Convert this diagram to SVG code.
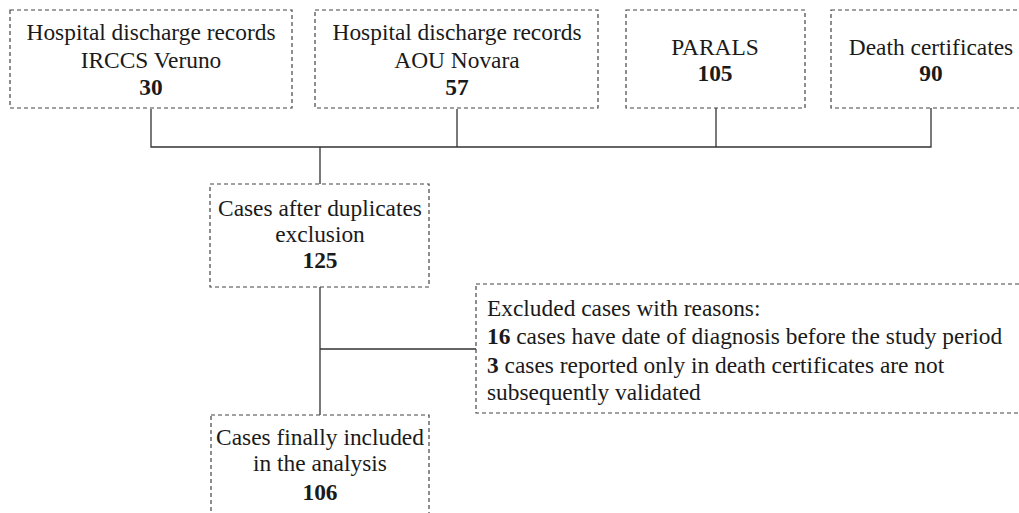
<svg xmlns="http://www.w3.org/2000/svg" width="1019" height="513" viewBox="0 0 1019 513">
<style>
.box{fill:#fff;stroke:#444;stroke-width:1.2;stroke-dasharray:4 3}
.t{font-family:'Liberation Serif','Times New Roman','DejaVu Serif',serif;font-size:23.4px;fill:#1a1a1a}
.c{text-anchor:middle}
.b{font-weight:bold}
.ln{fill:none;stroke:#333;stroke-width:1.3}
</style>
<rect width="1019" height="513" fill="#fff"/>
<g id="connectors">
<path class="ln" d="M151 109V147H931V108M457 109V147M716 108V147M320 147V184"/>
<path class="ln" d="M320 287V415M320 349H476"/>
</g>
<g id="n1">
<rect class="box" x="10" y="10" width="282" height="98"/>
<text class="t c" x="151" y="40">Hospital discharge records</text>
<text class="t c" x="151" y="68">IRCCS Veruno</text>
<text class="t c b" x="151" y="95">30</text>
</g>
<g id="n2">
<rect class="box" x="315" y="10" width="283" height="98"/>
<text class="t c" x="457" y="40">Hospital discharge records</text>
<text class="t c" x="457" y="68">AOU Novara</text>
<text class="t c b" x="457" y="95">57</text>
</g>
<g id="n3">
<rect class="box" x="626" y="10" width="179" height="98"/>
<text class="t c" x="715" y="55">PARALS</text>
<text class="t c b" x="715" y="81">105</text>
</g>
<g id="n4">
<rect class="box" x="831" y="10" width="200" height="98"/>
<text class="t c" x="931" y="55">Death certificates</text>
<text class="t c b" x="931" y="81">90</text>
</g>
<g id="n5">
<rect class="box" x="210" y="184" width="219" height="103"/>
<text class="t c" x="320" y="216">Cases after duplicates</text>
<text class="t c" x="320" y="242">exclusion</text>
<text class="t c b" x="320" y="268">125</text>
</g>
<g id="n6">
<rect class="box" x="476" y="284" width="560" height="129"/>
<text class="t" x="487" y="316">Excluded cases with reasons:</text>
<text class="t" x="487" y="344"><tspan class="b">16</tspan> cases have date of diagnosis before the study period</text>
<text class="t" x="487" y="373"><tspan class="b">3</tspan> cases reported only in death certificates are not</text>
<text class="t" x="487" y="400">subsequently validated</text>
</g>
<g id="n7">
<rect class="box" x="211" y="415" width="218" height="110"/>
<text class="t c" x="320" y="445">Cases finally included</text>
<text class="t c" x="320" y="471">in the analysis</text>
<text class="t c b" x="320" y="500">106</text>
</g>
</svg>
